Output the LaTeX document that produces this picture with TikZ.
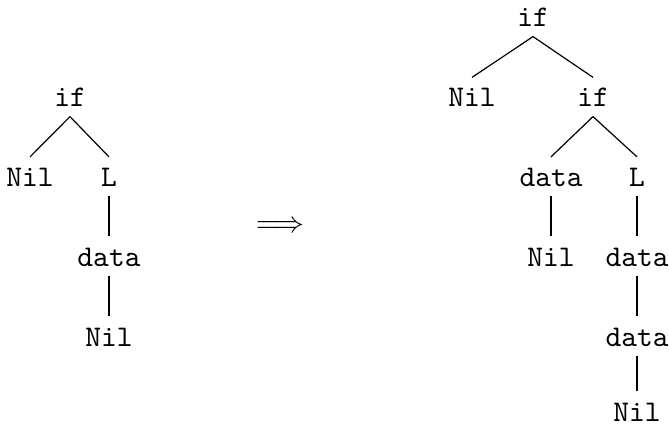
\documentclass[tikz,border=0pt]{standalone}
\begin{document}
\begin{tikzpicture}[x=0.3333pt, y=-0.3333pt,
  tnode/.style={font=\ttfamily, inner sep=0pt, text height=9.67pt, text depth=3pt, anchor=base},
  leafnode/.style={tnode, text depth=0pt},
  branch/.style={line width=0.4pt}]
\useasboundingbox (0,0) rectangle (669,425);

% tree before the rewrite
\node[tnode] (la) at (70,107)    {if};
\node[tnode] (lb) at (30,186.5)  {Nil};
\node[tnode] (lc) at (109,186.5) {L};
\node[tnode] (ld) at (109,266)   {data};
\node[tnode] (le) at (109,346)   {Nil};
\draw[branch] (la.south) -- (lb.north);
\draw[branch] (la.south) -- (lc.north);
\draw[branch] (lc.south) -- (ld.north);
\draw[branch] (ld.south) -- (le.north);

% rewrite arrow
\node[anchor=base, inner sep=0pt] (arr) at (280,233) {$\Longrightarrow$};

% tree after the rewrite
\node[tnode] (ra) at (533,27)    {if};
\node[tnode] (rb) at (472,107)   {Nil};
\node[tnode] (rc) at (593,107)   {if};
\node[tnode] (rd) at (551,186.5) {data};
\node[tnode] (re) at (637,186.5) {L};
\node[tnode] (rf) at (551,266)   {Nil};
\node[tnode] (rg) at (637,266)   {data};
\node[tnode] (rh) at (637,346)   {data};
\node[leafnode] (ri) at (637,421) {Nil};
\draw[branch] (ra.south) -- (rb.north);
\draw[branch] (ra.south) -- (rc.north);
\draw[branch] (rc.south) -- (rd.north);
\draw[branch] (rc.south) -- (re.north);
\draw[branch] (rd.south) -- (rf.north);
\draw[branch] (re.south) -- (rg.north);
\draw[branch] (rg.south) -- (rh.north);
\draw[branch] (rh.south) -- (ri.north);
\end{tikzpicture}
\end{document}
